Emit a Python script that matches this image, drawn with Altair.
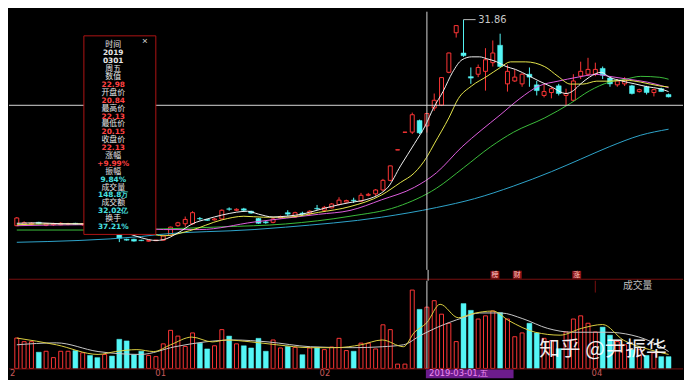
import altair as alt
import pandas as pd

# ---------------- data ----------------
opens = [10.50, 10.60, 10.65, 10.85, 10.55, 10.60, 10.60, 10.65, 10.75, 10.60,
         10.65, 10.50, 10.10, 10.20, 9.60, 9.10, 9.10, 9.00, 8.90, 8.95,
         9.00, 9.50, 10.50, 10.70, 10.70, 11.25, 11.15, 11.10, 11.20, 12.25,
         12.10, 12.25, 12.00, 11.25, 10.90, 10.85, 11.30, 11.85, 11.40, 11.80,
         11.75, 12.30, 12.10, 12.35, 12.70, 12.95, 13.15, 13.05, 13.65, 13.80,
         14.20, 15.20, 18.35, 20.18, 20.20, 21.40, 20.84, 22.70, 23.00, 26.40,
         30.50, 28.40, 25.95, 26.20, 26.50, 27.40, 29.20, 25.20, 25.50, 25.20,
         26.20, 25.10, 24.00, 24.30, 25.00, 24.00, 23.50, 26.00, 26.20, 26.20,
         26.80, 25.80, 25.10, 25.20, 25.00, 24.40, 24.90, 24.30, 24.70, 24.10]
highs = [11.40, 10.95, 10.85, 10.90, 10.75, 10.80, 10.85, 10.80, 10.80, 10.75,
         10.70, 10.55, 10.30, 10.25, 9.65, 9.15, 9.15, 9.05, 9.00, 9.05,
         9.50, 10.40, 10.90, 11.45, 12.00, 11.40, 11.20, 11.30, 12.20, 12.40,
         12.30, 12.35, 12.05, 11.30, 11.00, 11.30, 11.55, 12.10, 11.95, 11.95,
         12.10, 12.65, 12.55, 12.85, 13.45, 13.20, 13.40, 13.90, 13.90, 14.30,
         15.35, 16.72, 18.37, 20.20, 22.22, 21.50, 22.13, 24.20, 25.90, 28.43,
         31.24, 31.86, 26.90, 27.20, 28.90, 29.70, 30.40, 27.20, 26.70, 26.30,
         26.90, 25.50, 25.20, 24.90, 25.20, 24.70, 26.20, 27.50, 27.90, 27.40,
         27.00, 26.00, 25.70, 25.90, 25.10, 24.70, 25.00, 24.70, 24.80, 24.20]
lows = [10.45, 10.50, 10.55, 10.65, 10.45, 10.50, 10.55, 10.55, 10.60, 10.50,
        10.40, 10.10, 9.95, 9.95, 8.80, 8.95, 8.85, 8.90, 8.85, 8.90,
        8.95, 9.45, 10.40, 10.40, 10.60, 11.05, 11.00, 11.05, 11.15, 12.05,
        12.00, 12.00, 11.75, 10.70, 10.70, 10.75, 11.20, 11.50, 11.30, 11.55,
        11.60, 12.10, 12.00, 12.30, 12.60, 12.90, 12.85, 12.95, 13.55, 13.60,
        14.10, 15.10, 18.35, 20.18, 20.00, 20.00, 20.15, 22.40, 22.90, 26.30,
        30.00, 28.00, 25.20, 25.90, 24.50, 27.00, 26.90, 24.40, 25.40, 24.90,
        24.90, 24.00, 23.80, 23.70, 24.00, 22.90, 23.40, 25.70, 26.00, 26.00,
        25.70, 24.90, 24.90, 24.98, 24.10, 24.30, 24.10, 23.90, 24.40, 23.80]
closes = [11.30, 10.80, 10.75, 10.70, 10.70, 10.70, 10.75, 10.70, 10.65, 10.70,
          10.50, 10.20, 10.20, 10.05, 9.20, 9.00, 8.90, 8.95, 8.95, 9.00,
          9.45, 10.35, 10.80, 11.15, 11.85, 11.20, 11.05, 11.20, 12.10, 12.20,
          12.20, 12.10, 11.80, 10.75, 10.80, 11.20, 11.45, 11.70, 11.85, 11.70,
          12.00, 12.25, 12.40, 12.75, 13.15, 13.10, 13.10, 13.65, 13.75, 14.20,
          15.20, 16.70, 18.37, 20.20, 22.00, 20.12, 22.13, 23.50, 25.85, 28.40,
          31.24, 28.12, 25.80, 26.90, 27.70, 28.40, 27.00, 26.50, 25.90, 26.20,
          25.90, 24.50, 24.40, 24.70, 24.20, 24.20, 25.50, 26.50, 26.70, 26.70,
          26.10, 25.20, 25.50, 25.60, 24.20, 24.60, 24.30, 24.60, 24.40, 23.85]
volumes = [73.8, 65, 65, 39.4, 41.7, 26.2, 41.7, 41.7, 43.3, 38,
           31.6, 26.2, 34, 30, 70.8, 66.8, 33.3, 41.7, 31.6, 28.6,
           59.7, 92.5, 78.5, 53.4, 86.2, 61.4, 47.3, 55, 94.2, 78.5,
           59.7, 55, 49.7, 73.1, 41.7, 69.1, 49.7, 53.4, 51.1, 33.3,
           49.7, 51.1, 45.7, 52, 73.1, 43.3, 41.7, 61.4, 61.4, 47.3,
           105.9, 94.2, 10.5, 10.5, 190.3, 143.4, 148.8, 164.5, 131.7, 109.7,
           65.1, 157.5, 141, 120, 127.7, 139.4, 135.4, 120, 76.9, 86.2,
           109.7, 86.2, 73.1, 67.5, 48, 88.6, 120, 127.7, 109.7, 88.6,
           100.3, 80.8, 65.1, 57.4, 45.7, 45.7, 31.6, 38, 28.6, 28.6]

ma5_idx = [0, 3, 6, 9, 11, 13, 15, 17, 19, 20, 22, 24, 26, 28, 30, 31.5, 33, 35, 37, 39,
           41, 43, 45.5, 47.7, 49.8, 50.7, 52.4, 54.3, 55.8, 56.9, 58.2, 59.5, 60.8, 62.1,
           63.2, 64.2, 65.5, 66.8, 68.1, 70, 71.3, 73, 75, 76, 77, 78.2, 79.8, 80.9, 82.6,
           84.4, 86.1, 87.8, 89]
ma5_val = [10.75, 10.8, 10.7, 10.68, 10.55, 10.3, 9.75, 9.25, 8.97, 9.05, 9.75, 10.7, 11.2,
           11.6, 11.9, 12.0, 11.7, 11.4, 11.5, 11.7, 12.1, 12.5, 12.9, 13.2, 13.9, 14.5, 16.7,
           19.0, 20.9, 22.7, 24.4, 26.4, 27.7, 28.0, 28.0, 27.8, 27.5, 27.0, 26.7, 26.0, 25.5,
           24.9, 24.2, 24.5, 25.2, 25.9, 26.4, 25.9, 25.5, 25.2, 24.9, 24.7, 24.4]
ma10_idx = [0, 5, 9, 12, 15, 18, 20, 23.6, 28, 31, 33.7, 36.7, 41.2, 45.5, 49.8, 52.4, 54.3,
            56, 57, 59, 60.3, 62.1, 64.2, 66, 67.4, 69.5, 72.1, 73.9, 75.6, 77.3, 79.2, 80.9,
            83.1, 85.2, 87.8, 89]
ma10_val = [10.6, 10.7, 10.7, 10.55, 10.25, 9.75, 9.45, 9.98, 11.1, 11.48, 11.38, 11.38,
            11.88, 12.48, 13.68, 14.98, 15.98, 17.63, 18.98, 21.68, 23.68, 24.98, 25.98,
            26.88, 27.48, 27.48, 26.98, 25.98, 25.18, 25.18, 25.48, 25.48, 25.58, 25.38,
            24.98, 24.88]
ma20_idx = [0, 9, 15, 20, 25, 32.4, 41.2, 45.5, 49.8, 54.3, 57.3, 60.8, 63.4, 66, 68.7, 71.3,
            73.9, 76.5, 79.2, 80.9, 83.5, 86.1, 89]
ma20_val = [10.5, 10.6, 10.45, 10.1, 10.1, 10.88, 11.68, 12.08, 13.18, 14.48, 15.98, 18.68,
            20.38, 21.98, 23.68, 24.98, 25.48, 25.88, 26.18, 25.98, 25.68, 25.38, 24.8]
ma30_idx = [0, 10, 19.3, 28, 36.7, 45.5, 52, 57.3, 61, 64.7, 67.8, 72.1, 75.6, 78.2, 80.9,
            83.1, 85.2, 87.8, 89]
ma30_val = [10.05, 10.05, 10.15, 10.38, 10.68, 11.48, 12.48, 14.38, 16.5, 18.68, 20.18,
            21.68, 23.18, 24.48, 25.38, 25.68, 25.98, 25.88, 25.68]
ma60_idx = [0, 17, 19.3, 32.4, 36.7, 49.8, 57.3, 62.5, 67.8, 73, 77, 80.9, 85.2, 89]
ma60_val = [8.78, 9.38, 9.58, 10.1, 10.35, 11.38, 12.38, 13.3, 14.6, 16.1, 17.4, 18.68,
            19.88, 20.5]

vma5_idx = [0, 5.4, 11.1, 13.5, 16.4, 18.7, 21, 23.9, 26.7, 28.6, 32, 35.5, 40.1, 43.5, 47,
            49.9, 52.8, 54.3, 56, 57.8, 60.3, 62.1, 65, 67.2, 70.8, 74.2, 77.1, 80, 82.8,
            86.4, 89]
vma5_val = [73.8, 57.4, 34, 41, 45.7, 41, 57.4, 76.1, 64.4, 69.1, 64.4, 57.4, 50.4, 50.4,
            57.4, 69.1, 52.7, 87.9, 111.3, 155.8, 123, 132.4, 139.4, 116, 87.9, 80.8, 97.2,
            106.6, 69.1, 45.7, 34]
vma10_idx = [0, 5.4, 11.1, 16.9, 21.6, 25.7, 29.6, 34.3, 40.1, 45.9, 49.9, 52.8, 55.2, 57.4,
             60.9, 63.2, 66.1, 69.1, 72.5, 75.9, 80.6, 84, 87.5, 89]
vma10_val = [57.4, 62.1, 41, 34, 52.7, 64.4, 69.1, 64.4, 52.7, 50.4, 52.7, 57.4, 80.8, 99.6,
             123, 134.7, 134.7, 120.7, 97.2, 87.9, 87.9, 80.8, 57.4, 41]

cursor_idx = 56
cursor_price = 22.98
cursor_date = "2019-03-01,五"
max_idx = 61
max_price = 31.86

month_pos = [-0.26, 19.3, 41.4, 78.0]
month_text = ["2", "01", "02", "04"]

marker_pos = [65, 68, 76]
marker_text = ["榜", "财", "涨"]

tip_text = ["时间", "2019", "0301", "周五", "数值", "22.98", "开盘价", "20.84", "最高价", "22.13",
            "最低价", "20.15", "收盘价", "22.13", "涨幅", "+9.99%", "振幅", "9.84%", "成交量",
            "148.8万", "成交额", "32.02亿", "换手", "37.21%"]
tip_kind = ["label", "value", "value", "label", "label", "value", "label", "value", "label",
            "value", "label", "value", "label", "value", "label", "value", "label", "value",
            "label", "value", "label", "value", "label", "value"]
tip_tone = ["w", "w", "w", "w", "w", "r", "w", "r", "w", "r", "w", "r", "w", "r", "w", "r",
            "w", "c", "w", "c", "w", "c", "w", "c"]

# ---------------- style ----------------
BG = "#000000"
RED = "#ff3636"
CYAN = "#54f6f6"
GRID = "#7a1010"
CROSS = "#d8d8d8"
W = 684
HP, HS, HV, HA = 262, 11, 89, 10
TONES = {"w": "#e6e6e6", "r": "#ff4040", "c": "#48e0e0"}
MA_COLORS = {"MA5": "#f2f2f2", "MA10": "#e8e84c", "MA20": "#e05ee0", "MA30": "#3cbe3c",
             "MA60": "#2fa6cc", "VMA5": "#dcd040", "VMA10": "#c8c8c8"}

xs = alt.Scale(domain=[-0.393, 90.3], nice=False, zero=False)
ps = alt.Scale(domain=[5.92, 32.68], nice=False, zero=False)
vs = alt.Scale(domain=[0, 213], nice=False, zero=True)
X = alt.X("idx:Q", scale=xs, axis=None)

n = len(closes)
candles = pd.DataFrame({"idx": list(range(n)), "open": opens, "high": highs, "low": lows,
                        "close": closes, "vol": volumes})
candles["dir"] = ["up" if c >= o else "down" for o, c in zip(opens, closes)]
candles["col"] = [RED if d == "up" else CYAN for d in candles["dir"]]
base = alt.Chart(candles)
UP = "datum.dir == 'up'"
DN = "datum.dir == 'down'"

# ---------------- price panel ----------------
wicks = base.mark_rule(strokeWidth=1).encode(
    x=X, y=alt.Y("low:Q", scale=ps, axis=None), y2="high:Q",
    color=alt.Color("col:N", scale=None))
up_body = base.transform_filter(UP).mark_bar(
    orient="vertical", size=4, fill=BG, stroke=RED, strokeWidth=1).encode(
    x=X, y=alt.Y("open:Q", scale=ps, axis=None), y2="close:Q")
dn_body = base.transform_filter(DN).mark_bar(
    orient="vertical", size=5, fill=CYAN, stroke=CYAN, strokeWidth=0.5).encode(
    x=X, y=alt.Y("open:Q", scale=ps, axis=None), y2="close:Q")

ma_rows = []
for name, ii, vv in [("MA60", ma60_idx, ma60_val), ("MA30", ma30_idx, ma30_val),
                     ("MA20", ma20_idx, ma20_val), ("MA10", ma10_idx, ma10_val),
                     ("MA5", ma5_idx, ma5_val)]:
    for a, b in zip(ii, vv):
        ma_rows.append({"ma": name, "idx": a, "val": b, "col": MA_COLORS[name]})
ma_df = pd.DataFrame(ma_rows)
ma_lines = alt.Chart(ma_df).mark_line(strokeWidth=1, interpolate="monotone").encode(
    x=X, y=alt.Y("val:Q", scale=ps, axis=None),
    color=alt.Color("col:N", scale=None), detail="ma:N")

cur = pd.DataFrame({"idx": [cursor_idx], "price": [cursor_price], "date": [cursor_date]})
hline = alt.Chart(cur).mark_rule(color=CROSS, strokeWidth=1).encode(
    y=alt.Y("price:Q", scale=ps, axis=None))
vline = alt.Chart(cur).mark_rule(color=CROSS, strokeWidth=1).encode(x=X)

mx = pd.DataFrame({"idx": [max_idx], "price": [max_price], "label": [f"{max_price:.2f}"]})
mx_rule = alt.Chart(mx).transform_calculate(idx2="datum.idx + 1.65").mark_rule(
    color="#bdbdbd", strokeWidth=1).encode(
    x=X, x2="idx2:Q", y=alt.Y("price:Q", scale=ps, axis=None))
mx_text = alt.Chart(mx).mark_text(align="left", baseline="middle", dx=15, fontSize=10,
                                  color="#c8c8c8", font="DejaVu Sans").encode(
    x=X, y=alt.Y("price:Q", scale=ps, axis=None), text="label:N")

tip = pd.DataFrame({"row": list(range(len(tip_text))), "text": tip_text, "kind": tip_kind,
                    "color": [TONES[t] for t in tip_tone]})
tip_py = "34.3 + datum.row * 8.01"
tip_box = alt.Chart(cur).mark_rect(fill=BG, stroke="#b01414", strokeWidth=1).encode(
    x=alt.value(76), x2=alt.value(149), y=alt.value(24.5), y2=alt.value(226))
tip_lab = alt.Chart(tip).transform_filter("datum.kind == 'label'").transform_calculate(
    py=tip_py).mark_text(align="center", baseline="middle", fontSize=8,
                         font="Noto Sans CJK SC").encode(
    x=alt.value(105.8), y=alt.Y("py:Q", scale=None, axis=None), text="text:N",
    color=alt.Color("color:N", scale=None))
tip_val = alt.Chart(tip).transform_filter("datum.kind == 'value'").transform_calculate(
    py=tip_py).mark_text(align="center", baseline="middle", fontSize=7.5, fontWeight="bold",
                         font="DejaVu Sans").encode(
    x=alt.value(105.8), y=alt.Y("py:Q", scale=None, axis=None), text="text:N",
    color=alt.Color("color:N", scale=None))
tip_close = alt.Chart(cur).mark_text(text="×", fontSize=10, color="#d0d0d0",
                                     baseline="middle").encode(
    x=alt.value(138), y=alt.value(30))

price = alt.layer(wicks, up_body, dn_body, ma_lines, hline, vline, mx_rule, mx_text,
                  tip_box, tip_lab, tip_val, tip_close).properties(width=W, height=HP)

# ---------------- marker strip ----------------
mk = pd.DataFrame({"idx": marker_pos, "text": marker_text})
strip_line = alt.Chart(cur).mark_rule(color=GRID, strokeWidth=1).encode(
    x=alt.value(0), x2=alt.value(W), y=alt.value(9.5))
mk_box = alt.Chart(mk).transform_calculate(a="datum.idx - 0.6", b="datum.idx + 0.6").mark_rect(
    fill="#8c1414").encode(x=alt.X("a:Q", scale=xs, axis=None), x2="b:Q",
                           y=alt.value(1), y2=alt.value(9))
mk_text = alt.Chart(mk).mark_text(fontSize=7, color="#ffc4c4", baseline="middle",
                                  font="Noto Sans CJK SC").encode(
    x=X, y=alt.value(5), text="text:N")
strip = alt.layer(strip_line, mk_box, mk_text, vline).properties(width=W, height=HS)

# ---------------- volume panel ----------------
up_vol = base.transform_filter(UP).mark_bar(
    orient="vertical", size=4, fill=BG, stroke=RED, strokeWidth=1).encode(
    x=X, y=alt.Y("vol:Q", scale=vs, axis=None))
dn_vol = base.transform_filter(DN).mark_bar(
    orient="vertical", size=5, fill=CYAN, stroke=CYAN, strokeWidth=0.5).encode(
    x=X, y=alt.Y("vol:Q", scale=vs, axis=None))
vrows = []
for name, ii, vv in [("VMA10", vma10_idx, vma10_val), ("VMA5", vma5_idx, vma5_val)]:
    for a, b in zip(ii, vv):
        vrows.append({"ma": name, "idx": a, "val": b, "col": MA_COLORS[name]})
vma_df = pd.DataFrame(vrows)
vma_lines = alt.Chart(vma_df).mark_line(strokeWidth=1, interpolate="monotone").encode(
    x=X, y=alt.Y("val:Q", scale=vs, axis=None),
    color=alt.Color("col:N", scale=None), detail="ma:N")
cjl_border = alt.Chart(cur).mark_rule(color=GRID, strokeWidth=1).encode(
    x=alt.value(595), y=alt.value(0), y2=alt.value(12))
cjl_text = alt.Chart(cur).mark_text(text="成交量", fontSize=10, color="#bdbdbd",
                                    baseline="middle", font="Noto Sans CJK SC").encode(
    x=alt.value(638), y=alt.value(5))
watermark = alt.Chart(cur).mark_text(text="知乎 @尹振华", fontSize=21, color="#ffffff",
                                     align="left", baseline="middle", opacity=0.92,
                                     font="Noto Sans CJK SC").encode(
    x=alt.value(538), y=alt.value(70))
volp = alt.layer(up_vol, dn_vol, vma_lines, vline, cjl_border, cjl_text,
                 watermark).properties(width=W, height=HV)

# ---------------- date axis strip ----------------
months = pd.DataFrame({"idx": month_pos, "text": month_text})
ax_line = alt.Chart(cur).mark_rule(color=GRID, strokeWidth=1).encode(
    x=alt.value(0), x2=alt.value(W), y=alt.value(0.5))
m_text = alt.Chart(months).mark_text(align="left", baseline="middle", fontSize=8.5,
                                     color="#c85a5a", font="DejaVu Sans").encode(
    x=X, y=alt.value(5), text="text:N")
d_box = alt.Chart(cur).transform_calculate(a="datum.idx - 0.3", b="datum.idx + 11.5").mark_rect(
    fill="#6c1c8c").encode(x=alt.X("a:Q", scale=xs, axis=None), x2="b:Q",
                           y=alt.value(1), y2=alt.value(10))
d_text = alt.Chart(cur).mark_text(align="left", baseline="middle", fontSize=8.5, dx=1,
                                  color="#f08cf0", font="DejaVu Sans").encode(
    x=X, y=alt.value(5), text="date:N")
axisp = alt.layer(ax_line, m_text, d_box, d_text).properties(width=W, height=HA)

chart = alt.vconcat(price, strip, volp, axisp, spacing=0, bounds="flush").properties(
    padding=0, background=BG).configure_view(stroke=None)

chart.save("out.html", embed_options={"renderer": "svg", "actions": False})
